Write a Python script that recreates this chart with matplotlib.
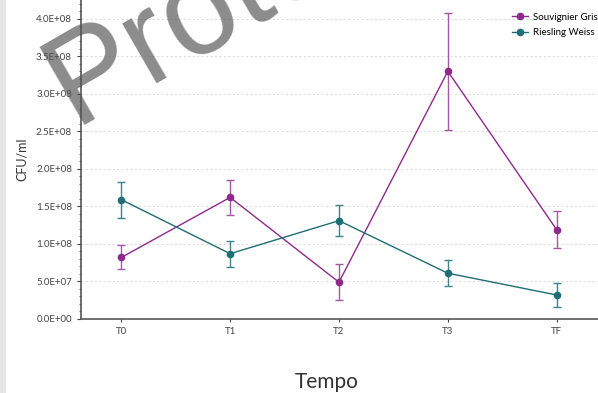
import numpy as np
import matplotlib.pyplot as plt
from matplotlib.lines import Line2D
from matplotlib.ticker import FuncFormatter, MultipleLocator

# Data
tempi = ["T0", "T1", "T2", "T3", "TF"]
souvignier = [8.2e7, 1.62e8, 4.9e7, 3.3e8, 1.19e8]
souvignier_err = [1.6e7, 2.3e7, 2.4e7, 7.8e7, 2.5e7]
riesling = [1.59e8, 8.7e7, 1.31e8, 6.1e7, 3.2e7]
riesling_err = [2.4e7, 1.75e7, 2.1e7, 1.75e7, 1.55e7]

purple = "#8e2a8c"
teal = "#1f6e73"


def sci_fmt(v, pos):
    if v == 0:
        return "0.0E+00"
    e = int(np.floor(np.log10(abs(v))))
    m = v / 10 ** e
    return "%.1fE+%02d" % (m, e)


plt.rcParams["font.family"] = ["Lato", "DejaVu Sans"]

fig = plt.figure(figsize=(5.98, 3.93), dpi=100)
ax = fig.add_axes([0.1355, 0.1883, 0.8645, 0.8117])

x = np.arange(len(tempi))
ax.errorbar(x, souvignier, yerr=souvignier_err, color=purple, marker="o",
            markersize=4.5, linewidth=1, elinewidth=1, capsize=3,
            ecolor="#a457a2", zorder=3)
ax.errorbar(x, riesling, yerr=riesling_err, color=teal, marker="o",
            markersize=4.5, linewidth=1, elinewidth=1, capsize=3,
            ecolor="#3d8387", zorder=3)

ax.set_xlim(-0.37, 4.38)
ax.set_ylim(0, 4.25e8)
ax.set_xticks(x)
ax.set_xticklabels(tempi)
ax.yaxis.set_major_locator(MultipleLocator(5e7))
ax.yaxis.set_minor_locator(MultipleLocator(1e7))
ax.yaxis.set_major_formatter(FuncFormatter(sci_fmt))
ax.tick_params(axis="both", labelsize=7, colors="#444444", length=3)
ax.tick_params(axis="y", which="minor", length=1.5, colors="#444444")
ax.tick_params(axis="x", length=2)

ax.grid(axis="y", linestyle=(0, (2, 2)), color="#dddddd", linewidth=0.8)
ax.set_axisbelow(True)
for s in ["top", "right"]:
    ax.spines[s].set_visible(False)
for s in ["left", "bottom"]:
    ax.spines[s].set_color("#555555")
    ax.spines[s].set_linewidth(1.2)

ax.set_ylabel("CFU/ml", fontsize=9, color="#333333", labelpad=6)
fig.text(0.546, 0.012, "Tempo", fontsize=15, color="#333333", ha="center")

handles = [
    Line2D([], [], color=purple, marker="o", markersize=4.5, linewidth=1),
    Line2D([], [], color=teal, marker="o", markersize=4.5, linewidth=1),
]
ax.legend(handles, ["Souvignier Gris", "Riesling Weiss"], loc="upper right",
          bbox_to_anchor=(1.023, 1.0), frameon=False, fontsize=7,
          handlelength=1.6, handletextpad=0.5, borderaxespad=0.9,
          labelspacing=0.7)

# left border of the screenshot
fig.patches.append(plt.Rectangle((0, 0), 0.008, 1, transform=fig.transFigure,
                                 color="#e6e6e6", zorder=0))

# watermark
fig.text(0.124, 0.682, "Proto", fontsize=93, color="#555555", alpha=0.68,
         rotation=30, rotation_mode="anchor", ha="left", va="baseline",
         family=["Liberation Sans", "DejaVu Sans"], zorder=10)

fig.savefig("out.png", dpi=100)
